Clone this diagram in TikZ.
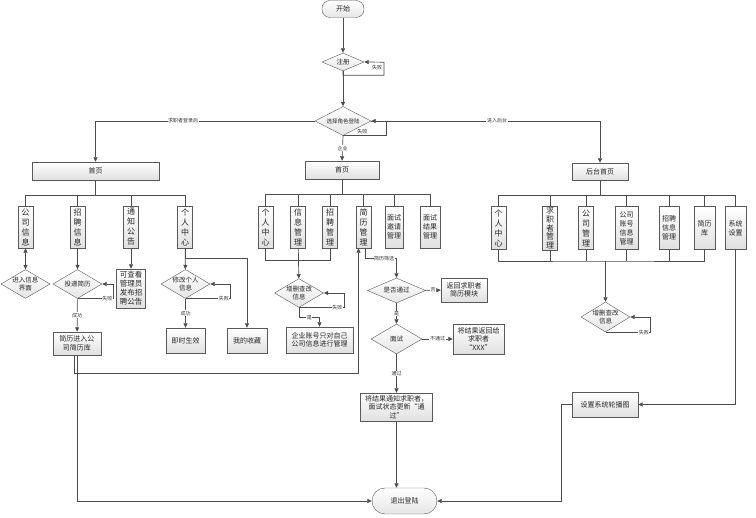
\documentclass[tikz,border=0pt]{standalone}
\usepackage{fontspec}
\setmainfont{Noto Sans CJK SC}
\usepackage{tikz}
\usetikzlibrary{shapes.geometric,arrows.meta,positioning,calc,shadows}

\begin{document}
\begin{tikzpicture}[
  x=1pt, y=-1pt,
  box/.style={rectangle, draw=black!65, top color=white, bottom color=black!12,
              general shadow={fill=black!30, shadow xshift=0.8pt, shadow yshift=-0.8pt},
              inner sep=1pt, align=center, text=black!85, font=\fontsize{7}{8.5}\selectfont},
  vbox/.style={box, minimum width=15pt, minimum height=42pt,
               font=\fontsize{8}{10}\selectfont},
  choice/.style={diamond, aspect=1.7, draw=black!65, top color=white, bottom color=black!10,
                 inner sep=0pt, align=center, text=black!85, font=\fontsize{6.5}{7.5}\selectfont},
  term/.style={rectangle, rounded corners=8pt, draw=black!65, top color=white,
               bottom color=black!10, text=black!85, font=\fontsize{7}{8}\selectfont},
  line/.style={draw=black!70, line width=0.7pt},
  arr/.style={line, -{Triangle[length=4.5pt,width=4pt]}},
  biarr/.style={line, {Triangle[length=4.5pt,width=4pt]}-{Triangle[length=4.5pt,width=4pt]}},
  tag/.style={font=\fontsize{5}{5.5}\selectfont, fill=white, inner sep=0.6pt, text=black!80}
]
\path[use as bounding box, fill=white] (0,0) rectangle (756,518);

% top
\node[term, minimum width=42pt, minimum height=17pt] (start) at (343,9) {开始};
\node[choice, minimum width=42pt, minimum height=18pt] (reg) at (343,62) {注册};
\node[choice, minimum width=56pt, minimum height=29pt, font=\fontsize{5.5}{6}\selectfont] (role) at (343,121) {选择角色登陆};

\node[box, minimum width=127pt, minimum height=18pt] (home1) at (95.5,171) {首页};
\node[box, minimum width=74pt, minimum height=18pt] (home2) at (342,170) {首页};
\node[box, minimum width=56pt, minimum height=17pt] (admin) at (600,171.5) {后台首页};

% job seeker side
\node[vbox] (comp) at (25.5,227) {公\\司\\信\\息};
\node[vbox] (jobs) at (77.5,227) {招\\聘\\信\\息};
\node[vbox] (note) at (131,227) {通\\知\\公\\告};
\node[vbox] (mine) at (185,227) {个\\人\\中\\心};

\node[choice, minimum width=47pt, minimum height=28pt] (enter) at (25.5,284) {进入信息\\界面};
\node[choice, minimum width=49pt, minimum height=29pt] (send) at (77.5,284) {投递简历};
\node[box, minimum width=29pt, minimum height=39pt, font=\fontsize{7.5}{9}\selectfont] (notice) at (131,288.5) {可查看\\管理员\\发布招\\聘公告};
\node[choice, minimum width=49pt, minimum height=29pt] (edit) at (185.5,284) {修改个人\\信息};
\node[box, minimum width=48pt, minimum height=23pt] (cvlib) at (77,343.5) {简历进入公\\司简历库};
\node[box, minimum width=39pt, minimum height=25pt] (done) at (185.5,340.5) {即时生效};
\node[box, minimum width=40pt, minimum height=25pt] (fav) at (247,340.5) {我的收藏};

% company side
\node[vbox] (mself) at (265.5,227) {个\\人\\中\\心};
\node[vbox] (minfo) at (298,227) {信\\息\\管\\理};
\node[vbox] (mjob) at (330,227) {招\\聘\\管\\理};
\node[vbox] (mcv) at (363.5,227) {简\\历\\管\\理};
\node[vbox, minimum width=18pt, font=\fontsize{7}{9}\selectfont] (minv) at (394,227) {面试\\邀请\\管理};
\node[vbox, minimum width=20pt, font=\fontsize{7}{9}\selectfont] (mres) at (430,227) {面试\\结果\\管理};

\node[choice, minimum width=48pt, minimum height=28pt] (crud1) at (299,293) {增删查改\\信息};
\node[box, minimum width=67pt, minimum height=26pt] (own) at (319.5,340) {企业账号只对自己\\公司信息进行管理};

\node[choice, minimum width=58pt, minimum height=25pt] (pass) at (396.5,290.5) {是否通过};
\node[box, minimum width=46pt, minimum height=24pt] (back) at (464,290) {返回求职者\\简历模块};
\node[choice, minimum width=51pt, minimum height=30pt] (meet) at (396.5,339) {面试};
\node[box, minimum width=51pt, minimum height=30pt] (fail) at (478.5,339) {将结果返回给\\求职者\\“XXX”};
\node[box, minimum width=72pt, minimum height=28pt] (ok) at (396.5,407) {将结果通知求职者，\\面试状态更新“通\\过”};
\node[term, minimum width=65pt, minimum height=26pt, rounded corners=13pt] (exit) at (404.5,501) {退出登陆};

% admin side
\node[vbox, minimum height=43pt] (aself) at (498.5,228) {个\\人\\中\\心};
\node[vbox, minimum height=43pt, font=\fontsize{8}{8.6}\selectfont] (aseek) at (550,228) {求\\职\\者\\管\\理};
\node[vbox, minimum height=43pt] (acomp) at (586,228) {公\\司\\管\\理};
\node[vbox, minimum height=43pt, minimum width=23pt, font=\fontsize{7}{9}\selectfont] (aacct) at (626.5,228) {公司\\账号\\信息\\管理};
\node[vbox, minimum height=43pt, minimum width=20pt, font=\fontsize{7}{9}\selectfont] (ajob) at (669,228) {招聘\\信息\\管理};
\node[vbox, minimum height=43pt, minimum width=21pt, font=\fontsize{7}{9}\selectfont] (alib) at (704.5,228) {简历\\库};
\node[vbox, minimum height=43pt, minimum width=21pt, font=\fontsize{7}{9}\selectfont] (aset) at (735.5,228) {系统\\设置};

\node[choice, minimum width=49pt, minimum height=30pt] (crud2) at (605.5,317) {增删查改\\信息};
\node[box, minimum width=66pt, minimum height=25pt] (slide) at (605,404.5) {设置系统轮播图};

\coordinate (busL) at (95.5,195);
\coordinate (busM) at (342,194);
\coordinate (busR) at (600,195);
\coordinate (joinR) at (605.5,261);

% login
\draw[arr] (start) -- (reg);
\draw[arr] (reg.south) -- ++(0,4) -| node[tag, pos=0.8, left=1pt] {失败} ++(41,-13) -- (reg.east);
\draw[arr] (reg) -- (role);
\draw[arr] (role.south) -- ++(43,0) node[tag, pos=0.45, above=0.5pt] {失败} |- (role.east);
\draw[arr] (role.west) -| node[tag, pos=0.3] {求职者登录后} (home1.north);
\draw[arr] (role.east) -| node[tag, pos=0.275] {进入后台} (admin.north);
\draw[arr] (role.south) -- node[tag] {企业} (home2.north);

% job seeker side
\draw[line] (home1.south) -- (busL);
\draw[line] (comp.north) |- (busL);
\draw[line] (jobs.north) |- (busL);
\draw[line] (note.north) |- (busL);
\draw[line] (mine.north) |- (busL);
\draw[biarr] (comp) -- (enter);
\draw[arr] (jobs) -- (send);
\draw[arr] (send.south) -- ++(36,0) node[tag, pos=0.83] {失败} |- (send.east);
\draw[arr] (send) -- node[tag] {成功} (cvlib);
\draw[arr] (note) -- (notice);
\draw[arr] (mine) -- (edit);
\draw[arr] (edit.south) -- ++(45,0) node[tag, pos=0.85] {失败} |- (edit.east);
\draw[arr] (edit) -- node[tag] {成功} (done);
\draw[arr] (mine.south) -- ++(0,10) -| (fav.north);
\draw[arr] ([xshift=-3pt]cvlib.south) -- ++(0,18) -| ([xshift=-5pt]mcv.south);
\draw[arr] (cvlib.south) |- (exit.west);

% company side
\draw[line] (home2.south) -- (busM);
\draw[line] (mself.north) |- (busM);
\draw[line] (minfo.north) |- (busM);
\draw[line] (mjob.north) |- (busM);
\draw[line] (mcv.north) |- (busM);
\draw[line] (minv.north) |- (busM);
\draw[line] (mres.north) |- (busM);
\draw[line] (mself.south) -- ++(0,12) -| (mjob.south);
\draw[arr] (minfo) -- (crud1);
\draw[arr] (crud1.south) -- ++(45,0) node[tag, pos=0.85] {失败} |- (crud1.east);
\draw[arr] (crud1.south) -- ++(0,10) -| node[tag, pos=0.25] {是} (own.north);
\draw[arr] ([xshift=2pt]mcv.south) -- ++(0,10) -| node[tag, pos=0.3] {简历筛选} (pass.north);
\draw[arr] (pass) -- node[tag] {否} (back);
\draw[arr] (pass) -- node[tag] {是} (meet);
\draw[arr] (meet) -- node[tag] {不通过} (fail);
\draw[arr] (meet) -- node[tag] {通过} (ok);
\draw[arr] (ok.south) -- (ok.south |- exit.north);

% admin side
\draw[line] (admin.south) -- (busR);
\draw[line] (aself.north) |- (busR);
\draw[line] (aseek.north) |- (busR);
\draw[line] (acomp.north) |- (busR);
\draw[line] (aacct.north) |- (busR);
\draw[line] (ajob.north) |- (busR);
\draw[line] (alib.north) |- (busR);
\draw[line] (aset.north) |- (busR);
\draw[line] (aself.south) |- (joinR) -| (alib.south);
\draw[line] (aseek.south) -- (aseek.south |- joinR);
\draw[line] (acomp.south) -- (acomp.south |- joinR);
\draw[line] (aacct.south) -- (aacct.south |- joinR);
\draw[line] (ajob.south) -- (ajob.south |- joinR);
\draw[arr] (joinR) -- (crud2.north);
\draw[arr] (crud2.south) -- ++(45,0) node[tag, pos=0.85] {失败} |- (crud2.east);
\draw[arr] (aset.south) |- (slide.east);
\draw[arr] (slide.west) -- ++(-10,0) |- (exit.east);
\end{tikzpicture}
\end{document}
